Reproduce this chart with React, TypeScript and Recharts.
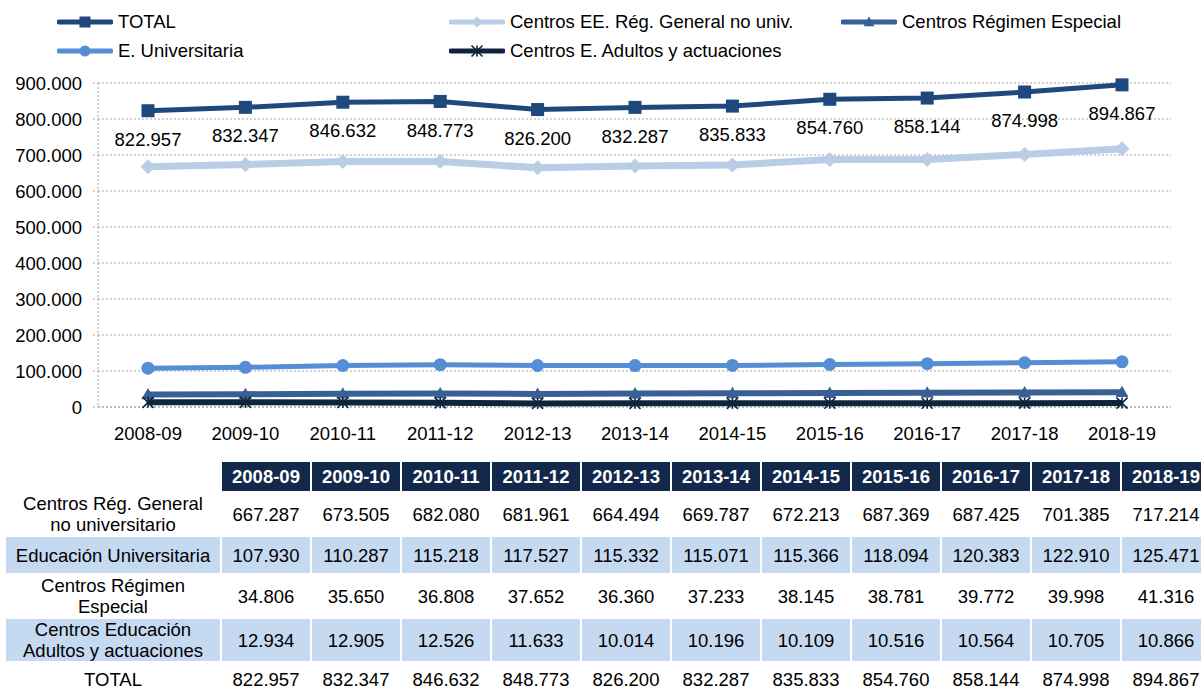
import { LineChart, Line, XAxis, YAxis, CartesianGrid, LabelList } from 'recharts';

// Alumnado por tipo de enseñanza, cursos 2008-09 a 2018-19

const categories = [
  '2008-09', '2009-10', '2010-11', '2011-12', '2012-13', '2013-14',
  '2014-15', '2015-16', '2016-17', '2017-18', '2018-19',
];

const general = [667287, 673505, 682080, 681961, 664494, 669787, 672213, 687369, 687425, 701385, 717214];
const universitaria = [107930, 110287, 115218, 117527, 115332, 115071, 115366, 118094, 120383, 122910, 125471];
const especial = [34806, 35650, 36808, 37652, 36360, 37233, 38145, 38781, 39772, 39998, 41316];
const adultos = [12934, 12905, 12526, 11633, 10014, 10196, 10109, 10516, 10564, 10705, 10866];
const total = [822957, 832347, 846632, 848773, 826200, 832287, 835833, 854760, 858144, 874998, 894867];

const yTicks = [0, 100000, 200000, 300000, 400000, 500000, 600000, 700000, 800000, 900000];

type Shape = 'square' | 'diamond' | 'triangle' | 'circle' | 'star';

interface SeriesDef {
  key: string;
  name: string;
  color: string;
  width: number;
  shape: Shape;
  size: number;
}

const SERIES: Record<string, SeriesDef> = {
  total: { key: 'total', name: 'TOTAL', color: '#1F497D', width: 5, shape: 'square', size: 13 },
  general: { key: 'general', name: 'Centros EE. Rég. General no univ.', color: '#B9CDE5', width: 7, shape: 'diamond', size: 15 },
  especial: { key: 'especial', name: 'Centros Régimen Especial', color: '#386094', width: 6, shape: 'triangle', size: 13 },
  universitaria: { key: 'universitaria', name: 'E. Universitaria', color: '#558ED5', width: 5, shape: 'circle', size: 13 },
  adultos: { key: 'adultos', name: 'Centros E. Adultos y actuaciones', color: '#10243E', width: 6, shape: 'star', size: 11 },
};

// legend grid: 3 columns, 2 rows
const LEGEND_ROWS = [
  ['total', 'general', 'especial'],
  ['universitaria', 'adultos'],
];

const TABLE_ROWS = [
  { label: ['Centros Rég. General', 'no universitario'], values: general, shaded: false, height: 42 },
  { label: ['Educación Universitaria'], values: universitaria, shaded: true, height: 36 },
  { label: ['Centros Régimen', 'Especial'], values: especial, shaded: false, height: 42 },
  { label: ['Centros Educación', 'Adultos y actuaciones'], values: adultos, shaded: true, height: 42 },
  { label: ['TOTAL'], values: total, shaded: false, height: 28, last: true },
];

const data = categories.map((cat, i) => ({
  cat,
  total: total[i],
  general: general[i],
  especial: especial[i],
  universitaria: universitaria[i],
  adultos: adultos[i],
}));

const fmt = (v: number) => v.toString().replace(/\B(?=(\d{3})+(?!\d))/g, '.');

const FONT = 18.5;
const GRID = '#A6A6A6';
const HEADER_BG = '#13294B';
const SHADE = '#C5D9F1';

function Marker({ shape, cx, cy, color, size }: { shape: Shape; cx: number; cy: number; color: string; size: number }) {
  const h = size / 2;
  switch (shape) {
    case 'square':
      return <rect x={cx - h} y={cy - h} width={size} height={size} fill={color} />;
    case 'diamond':
      return <polygon points={`${cx},${cy - h} ${cx + h},${cy} ${cx},${cy + h} ${cx - h},${cy}`} fill={color} />;
    case 'triangle':
      return <polygon points={`${cx},${cy - h} ${cx + h},${cy + h * 0.75} ${cx - h},${cy + h * 0.75}`} fill={color} />;
    case 'circle':
      return <circle cx={cx} cy={cy} r={h} fill={color} />;
    default:
      return (
        <g stroke={color} strokeWidth={1.6}>
          <line x1={cx - h} y1={cy - h} x2={cx + h} y2={cy + h} />
          <line x1={cx - h} y1={cy + h} x2={cx + h} y2={cy - h} />
          <line x1={cx} y1={cy - h} x2={cx} y2={cy + h} />
        </g>
      );
  }
}

function dotFor(s: SeriesDef) {
  return (props: any) => (
    <Marker key={`${s.key}-${props.index}`} shape={s.shape} cx={props.cx} cy={props.cy} color={s.color} size={s.size} />
  );
}

function LegendItem({ s }: { s: SeriesDef }) {
  return (
    <div style={{ display: 'flex', alignItems: 'center', width: 392 }}>
      <svg width={56} height={16}>
        <line x1={2} y1={8} x2={54} y2={8} stroke={s.color} strokeWidth={5} strokeLinecap="round" />
        <Marker shape={s.shape} cx={28} cy={8} color={s.color} size={Math.min(s.size, 11)} />
      </svg>
      <span style={{ marginLeft: 5 }}>{s.name}</span>
    </div>
  );
}

export default function App() {
  const order = ['general', 'universitaria', 'especial', 'adultos', 'total'];
  return (
    <div
      style={{
        position: 'absolute',
        left: 0,
        top: 0,
        width: 1201,
        height: 693,
        overflow: 'hidden',
        background: '#fff',
        fontFamily: '"Liberation Sans", Arial, sans-serif',
        fontSize: FONT,
        color: '#000',
      }}
    >
      <div style={{ position: 'absolute', left: 57, top: 7 }}>
        {LEGEND_ROWS.map((row, r) => (
          <div key={r} style={{ display: 'flex', height: 29 }}>
            {row.map((k) => (
              <LegendItem key={k} s={SERIES[k]} />
            ))}
          </div>
        ))}
      </div>

      <div style={{ position: 'absolute', left: 0, top: 0 }}>
        <LineChart width={1201} height={450} data={data} margin={{ top: 83, right: 30, left: 0, bottom: 13 }}>
          <CartesianGrid vertical={false} stroke={GRID} strokeDasharray="2 2" />
          <XAxis
            dataKey="cat"
            height={30}
            padding={{ left: 50, right: 49 }}
            axisLine={{ stroke: GRID, strokeDasharray: '2 2' }}
            tickLine={false}
            tickSize={5}
            tickMargin={15}
            tick={{ fill: '#000', fontSize: FONT }}
            interval={0}
          />
          <YAxis
            width={98}
            domain={[0, 900000]}
            ticks={yTicks}
            tickFormatter={fmt}
            axisLine={{ stroke: GRID, strokeDasharray: '2 2' }}
            tickLine={{ stroke: GRID, strokeDasharray: '2 2' }}
            tickSize={5}
            tickMargin={11}
            tick={{ fill: '#000', fontSize: FONT }}
          />
          {order.map((k) => {
            const s = SERIES[k];
            return (
              <Line
                key={k}
                type="linear"
                dataKey={k}
                name={s.name}
                stroke={s.color}
                strokeWidth={s.width}
                dot={dotFor(s)}
                activeDot={false}
                isAnimationActive={false}
              >
                {k === 'total' && (
                  <LabelList dataKey="total" position="bottom" offset={22} formatter={(v: any) => fmt(Number(v))} fill="#000" fontSize={FONT} />
                )}
              </Line>
            );
          })}
        </LineChart>
      </div>

      <table
        style={{
          position: 'absolute',
          left: 4,
          top: 460,
          width: 1206,
          tableLayout: 'fixed',
          borderCollapse: 'separate',
          borderSpacing: 2,
          fontSize: FONT,
          lineHeight: '21px',
          textAlign: 'center',
        }}
      >
        <colgroup>
          <col style={{ width: 214 }} />
          {categories.map((c) => (
            <col key={c} style={{ width: 88 }} />
          ))}
        </colgroup>
        <thead>
          <tr style={{ height: 29 }}>
            <th style={{ padding: 0 }} />
            {categories.map((c) => (
              <th key={c} style={{ padding: 0, background: HEADER_BG, color: '#fff', fontWeight: 'bold' }}>
                {c}
              </th>
            ))}
          </tr>
        </thead>
        <tbody>
          {TABLE_ROWS.map((row, r) => {
            const cell = {
              padding: row.last ? '8px 0 0 0' : 0,
              lineHeight: row.last ? '18px' : undefined,
              verticalAlign: row.last ? 'top' : 'middle',
              background: row.shaded ? SHADE : '#fff',
            } as const;
            return (
              <tr key={r} style={{ height: row.height }}>
                <td style={cell}>
                  {row.label.map((l, i) => (
                    <div key={i}>{l}</div>
                  ))}
                </td>
                {row.values.map((v, i) => (
                  <td key={i} style={cell}>
                    {fmt(v)}
                  </td>
                ))}
              </tr>
            );
          })}
        </tbody>
      </table>
    </div>
  );
}
